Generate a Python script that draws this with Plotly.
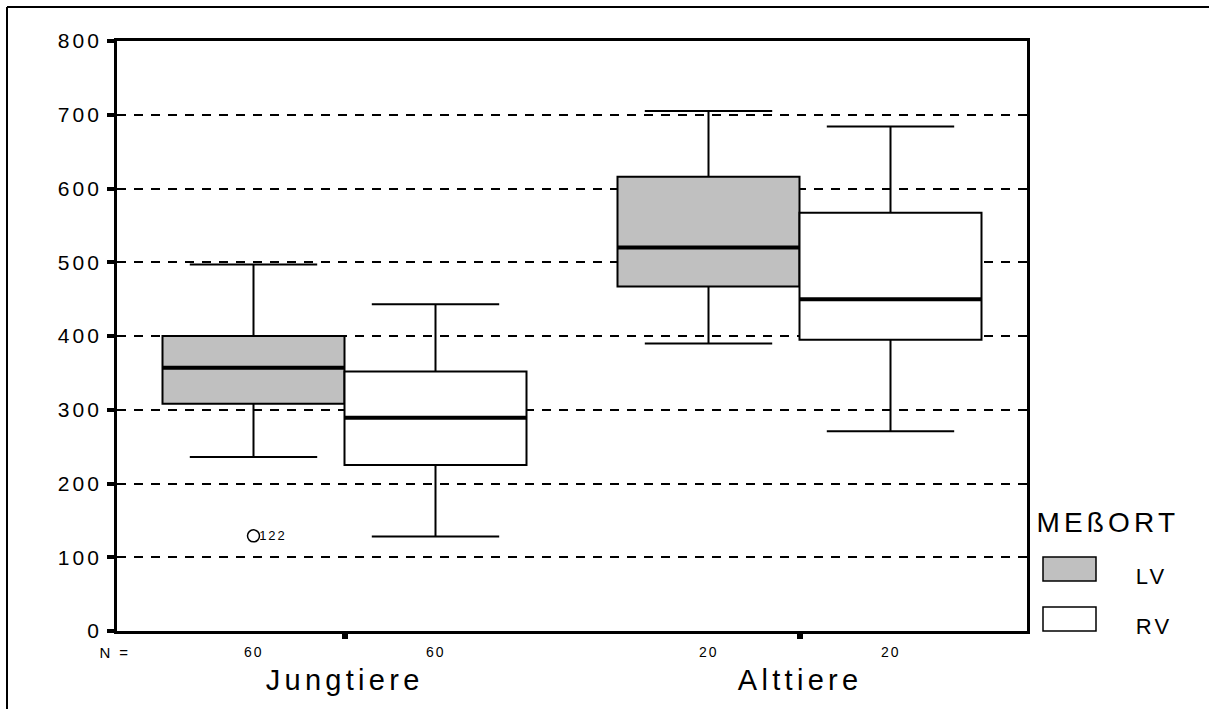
import plotly.graph_objects as go

# ---- data -------------------------------------------------------------
CATEGORIES = ["Jungtiere", "Alttiere"]
SERIES = ["LV", "RV"]
N_COUNTS_LV = [60, 20]
N_COUNTS_RV = [60, 20]

LV_LOWER = [236, 390]
LV_Q1 = [308, 467]
LV_MEDIAN = [357, 520]
LV_Q3 = [400, 616]
LV_UPPER = [497, 705]

RV_LOWER = [128, 271]
RV_Q1 = [225, 395]
RV_MEDIAN = [289, 450]
RV_Q3 = [352, 567]
RV_UPPER = [443, 684]

# outlier (LV, Jungtiere), case number 122
OUTLIER_GROUP = [0]
OUTLIER_VALUE = [129]
OUTLIER_CASE = ["122"]

Y_TICKS = [0, 100, 200, 300, 400, 500, 600, 700, 800]
LEGEND_TITLE = "MEßORT"
N_LABEL = "N ="

# ---- style / geometry -------------------------------------------------
W, H = 1211, 711
ML, MR, MT, MB = 117, 184, 41, 80
PW, PH = W - ML - MR, H - MT - MB
FONT = "Liberation Sans, Arial, sans-serif"
GRAY = "#c0c0c0"
BOX_W = 0.4
OFFSETS = {"LV": -BOX_W / 2, "RV": BOX_W / 2}
FILLS = {"LV": GRAY, "RV": "white"}


def px_x(p):
    return (p - ML) / PW


def px_y(p):
    return (H - MB - p) / PH


stats = {
    "LV": dict(lower=LV_LOWER, q1=LV_Q1, med=LV_MEDIAN, q3=LV_Q3, upper=LV_UPPER, n=N_COUNTS_LV),
    "RV": dict(lower=RV_LOWER, q1=RV_Q1, med=RV_MEDIAN, q3=RV_Q3, upper=RV_UPPER, n=N_COUNTS_RV),
}

fig = go.Figure()

# boxes
for s in SERIES:
    st = stats[s]
    xs = [g + OFFSETS[s] for g in range(len(CATEGORIES))]
    fig.add_trace(go.Box(
        x=xs, q1=st["q1"], median=st["med"], q3=st["q3"],
        lowerfence=st["lower"], upperfence=st["upper"],
        width=BOX_W, whiskerwidth=0.7, boxpoints=False,
        fillcolor=FILLS[s], line=dict(color="black", width=2),
        name=s, showlegend=False, hoverinfo="skip",
    ))

# thick median bars
for s in SERIES:
    st = stats[s]
    mx, my = [], []
    for g, m in enumerate(st["med"]):
        c = g + OFFSETS[s]
        mx += [c - BOX_W / 2, c + BOX_W / 2, None]
        my += [m, m, None]
    fig.add_trace(go.Scatter(x=mx, y=my, mode="lines",
                             line=dict(color="black", width=4),
                             showlegend=False, hoverinfo="skip"))

# outlier
ox = [g + OFFSETS["LV"] for g in OUTLIER_GROUP]
fig.add_trace(go.Scatter(x=ox, y=OUTLIER_VALUE, mode="markers",
                         marker=dict(symbol="circle-open", size=12,
                                     color="black", line=dict(width=1.5)),
                         showlegend=False, hoverinfo="skip"))

annotations = []
for x, v, t in zip(ox, OUTLIER_VALUE, OUTLIER_CASE):
    annotations.append(dict(x=x, y=v, xref="x", yref="y", text=t, showarrow=False,
                            xanchor="left", yanchor="middle", xshift=6,
                            font=dict(size=13, color="black", family=FONT)))

# N row
annotations.append(dict(x=-0.5, y=0, xref="x", yref="paper", text=N_LABEL,
                        showarrow=False, xanchor="center", yanchor="middle",
                        xshift=-2, yshift=-21,
                        font=dict(size=15, color="black", family=FONT)))
for s in SERIES:
    for g, n in enumerate(stats[s]["n"]):
        annotations.append(dict(x=g + OFFSETS[s], y=0, xref="x", yref="paper",
                                text=str(n), showarrow=False, xanchor="center",
                                yanchor="middle", yshift=-21,
                                font=dict(size=14, color="black", family=FONT)))

# category names
for g, c in enumerate(CATEGORIES):
    annotations.append(dict(x=g, y=0, xref="x", yref="paper", text=c,
                            showarrow=False, xanchor="center", yanchor="middle",
                            yshift=-49,
                            font=dict(size=29, color="black", family=FONT)))

# legend
annotations.append(dict(x=px_x(1108), y=px_y(522), xref="paper", yref="paper",
                        text=LEGEND_TITLE, showarrow=False, xanchor="center",
                        yanchor="middle",
                        font=dict(size=28, color="black", family=FONT)))
shapes = []
leg_rows = {"LV": 557, "RV": 607}
for s in SERIES:
    top = leg_rows[s]
    shapes.append(dict(type="rect", xref="paper", yref="paper",
                       x0=px_x(1043), x1=px_x(1096), y0=px_y(top + 24), y1=px_y(top),
                       fillcolor=FILLS[s], line=dict(color="black", width=1.5)))
    annotations.append(dict(x=px_x(1137), y=px_y(top + 19), xref="paper", yref="paper",
                            text=s, showarrow=False, xanchor="left", yanchor="middle",
                            font=dict(size=22, color="black", family=FONT)))

# outer frame: left and top edges, stopping just inside the page
shapes.append(dict(type="line", xref="paper", yref="paper",
                   x0=px_x(7), x1=px_x(7), y0=px_y(H - 2), y1=px_y(7),
                   line=dict(color="black", width=2), layer="below"))
shapes.append(dict(type="line", xref="paper", yref="paper",
                   x0=px_x(7), x1=px_x(W - 2), y0=px_y(7), y1=px_y(7),
                   line=dict(color="black", width=2), layer="below"))

fig.update_layout(
    width=W, height=H,
    margin=dict(l=ML, r=MR, t=MT, b=MB, pad=0),
    paper_bgcolor="white", plot_bgcolor="white",
    font=dict(family=FONT, color="black"),
    showlegend=False,
    annotations=annotations,
    shapes=shapes,
    xaxis=dict(range=[-0.5, 1.5], tickvals=list(range(len(CATEGORIES))),
               showticklabels=False, ticks="outside", ticklen=5, tickwidth=6,
               tickcolor="black", showgrid=False, zeroline=False,
               showline=True, linecolor="black", linewidth=3, mirror=True),
    yaxis=dict(range=[0, 800], tickvals=Y_TICKS, ticks="outside", ticklen=7,
               tickwidth=4, tickcolor="black", ticklabelstandoff=1,
               tickfont=dict(size=21, color="black", family=FONT),
               showgrid=True, gridcolor="black", gridwidth=2, griddash="9px,8px",
               zeroline=False, showline=True, linecolor="black", linewidth=2.5,
               mirror=True),
)

# spread letters a little, as in the printed chart; keep the page free of scrollbars
post = """
document.documentElement.style.overflow = 'hidden';
document.body.style.overflow = 'hidden';
document.body.style.margin = '0';
var gd = document.getElementById('{plot_id}');
gd.querySelectorAll('text').forEach(function(t){
  var fs = parseFloat(t.style.fontSize || window.getComputedStyle(t).fontSize);
  if (fs) { t.style.letterSpacing = (0.15 * fs).toFixed(1) + 'px'; }
});
"""

fig.write_html("out.html", post_script=post, config={"displayModeBar": False})
